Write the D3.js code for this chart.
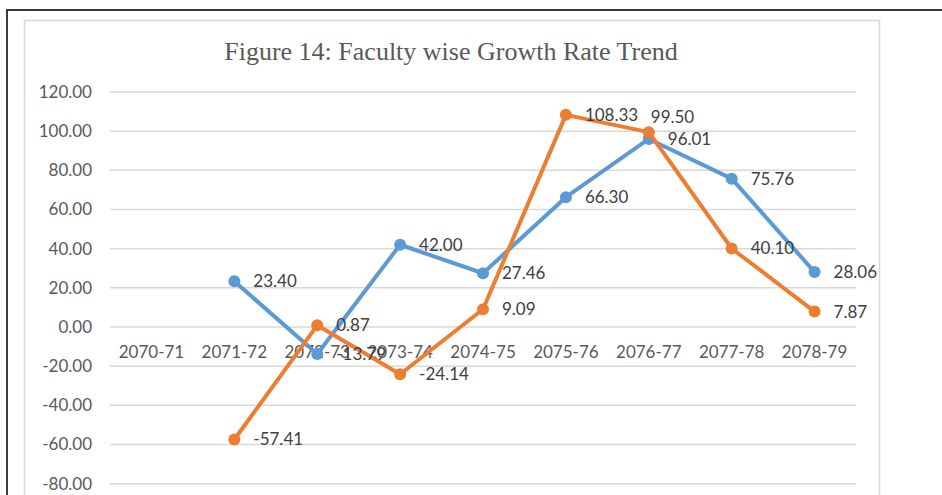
<!DOCTYPE html>
<head>
  <meta charset="utf-8">
  <script src="https://d3js.org/d3.v7.min.js"></script>
<style>
    body {
        margin: 0;
        background: #fff;
    }
    .tick-label {
        font-family: Lato, sans-serif;
        font-size: 17px;
        fill: #595959;
    }
    .data-label {
        font-family: Lato, sans-serif;
        font-size: 17px;
        fill: #404040;
    }
    .title {
        font-family: "Liberation Serif", serif;
        font-size: 26px;
        fill: #595959;
    }
</style>
</head>

<body>
  <script>

// chart data
var years = ["2070-71", "2071-72", "2072-73", "2073-74", "2074-75",
    "2075-76", "2076-77", "2077-78", "2078-79"];
var blueSeries = [null, 23.40, -13.79, 42.00, 27.46, 66.30, 96.01, 75.76, 28.06];
var orangeSeries = [null, -57.41, 0.87, -24.14, 9.09, 108.33, 99.50, 40.10, 7.87];
var yTicks = [-80, -60, -40, -20, 0, 20, 40, 60, 80, 100, 120];

// the one label that was dragged above its point in the original
var labelNudge = { "orange-2076-77": [-17, -15] };

var width = 942;
var height = 495;

var svg = d3.select("body")
    .append("svg")
    .attr("width", width)
    .attr("height", height);

// outer frame, then the chart area
svg.append("rect")
    .attr("x", 7).attr("y", 10)
    .attr("width", 960).attr("height", 520)
    .attr("fill", "#fff")
    .attr("stroke", "#3a3a3a")
    .attr("stroke-width", 2);

svg.append("rect")
    .attr("x", 24.5).attr("y", 20.5)
    .attr("width", 855).attr("height", 500)
    .attr("fill", "#fff")
    .attr("stroke", "#d9d9d9")
    .attr("stroke-width", 1.5);

svg.append("text")
    .attr("class", "title")
    .attr("x", 451)
    .attr("y", 60)
    .attr("text-anchor", "middle")
    .text("Figure 14: Faculty wise Growth Rate Trend");

var x = d3.scaleBand()
    .domain(years)
    .range([110, 856]);

var y = d3.scaleLinear()
    .domain([-80, 120])
    .range([483.7, 92]);

// gridlines
svg.append("g")
    .selectAll("line")
    .data(yTicks)
    .enter()
    .append("line")
    .attr("x1", 110)
    .attr("x2", 856)
    .attr("y1", function (d) { return y(d); })
    .attr("y2", function (d) { return y(d); })
    .attr("stroke", "#d9d9d9")
    .attr("stroke-width", 1.5);

// y axis labels (plain hyphen for negatives, like the original)
var yAxis = d3.axisLeft(y)
    .tickValues(yTicks)
    .tickFormat(function (d) { return d.toFixed(2); })
    .tickSize(0)
    .tickPadding(0);

var yg = svg.append("g")
    .attr("transform", "translate(92,0)")
    .call(yAxis);
yg.select(".domain").remove();
yg.selectAll("text")
    .attr("class", "tick-label")
    .attr("font-family", null)
    .attr("font-size", null)
    .attr("fill", null);

// category labels just under the zero line
var xAxis = d3.axisBottom(x)
    .tickSize(0)
    .tickPadding(0);

var xg = svg.append("g")
    .attr("transform", "translate(0," + y(0) + ")")
    .call(xAxis);
xg.select(".domain").remove();
xg.selectAll("text")
    .attr("class", "tick-label")
    .attr("y", 25)
    .attr("dy", "0.35em")
    .attr("font-family", null)
    .attr("font-size", null)
    .attr("fill", null);

function drawSeries(name, values, color) {
    var pts = values.map(function (v, i) {
        return { key: name + "-" + years[i], year: years[i], value: v };
    });

    var line = d3.line()
        .defined(function (d) { return d.value !== null; })
        .x(function (d) { return x(d.year) + x.bandwidth() / 2; })
        .y(function (d) { return y(d.value); });

    svg.append("path")
        .datum(pts)
        .attr("d", line)
        .attr("fill", "none")
        .attr("stroke", color)
        .attr("stroke-width", 4)
        .attr("stroke-linejoin", "round");

    svg.append("g")
        .selectAll("circle")
        .data(pts.filter(function (d) { return d.value !== null; }))
        .enter()
        .append("circle")
        .attr("cx", function (d) { return x(d.year) + x.bandwidth() / 2; })
        .attr("cy", function (d) { return y(d.value); })
        .attr("r", 6)
        .attr("fill", color);

    return pts;
}

var bluePts = drawSeries("blue", blueSeries, "#5B9BD5");
var orangePts = drawSeries("orange", orangeSeries, "#ED7D31");

// data labels on top of everything
[bluePts, orangePts].forEach(function (pts) {
    svg.append("g")
        .selectAll("text")
        .data(pts.filter(function (d) { return d.value !== null; }))
        .enter()
        .append("text")
        .attr("class", "data-label")
        .attr("x", function (d) {
            var n = labelNudge[d.key] || [0, 0];
            return x(d.year) + x.bandwidth() / 2 + 19 + n[0];
        })
        .attr("y", function (d) {
            var n = labelNudge[d.key] || [0, 0];
            return y(d.value) + n[1];
        })
        .attr("dy", "0.35em")
        .text(function (d) { return d.value.toFixed(2); });
});

  </script>
</body>
